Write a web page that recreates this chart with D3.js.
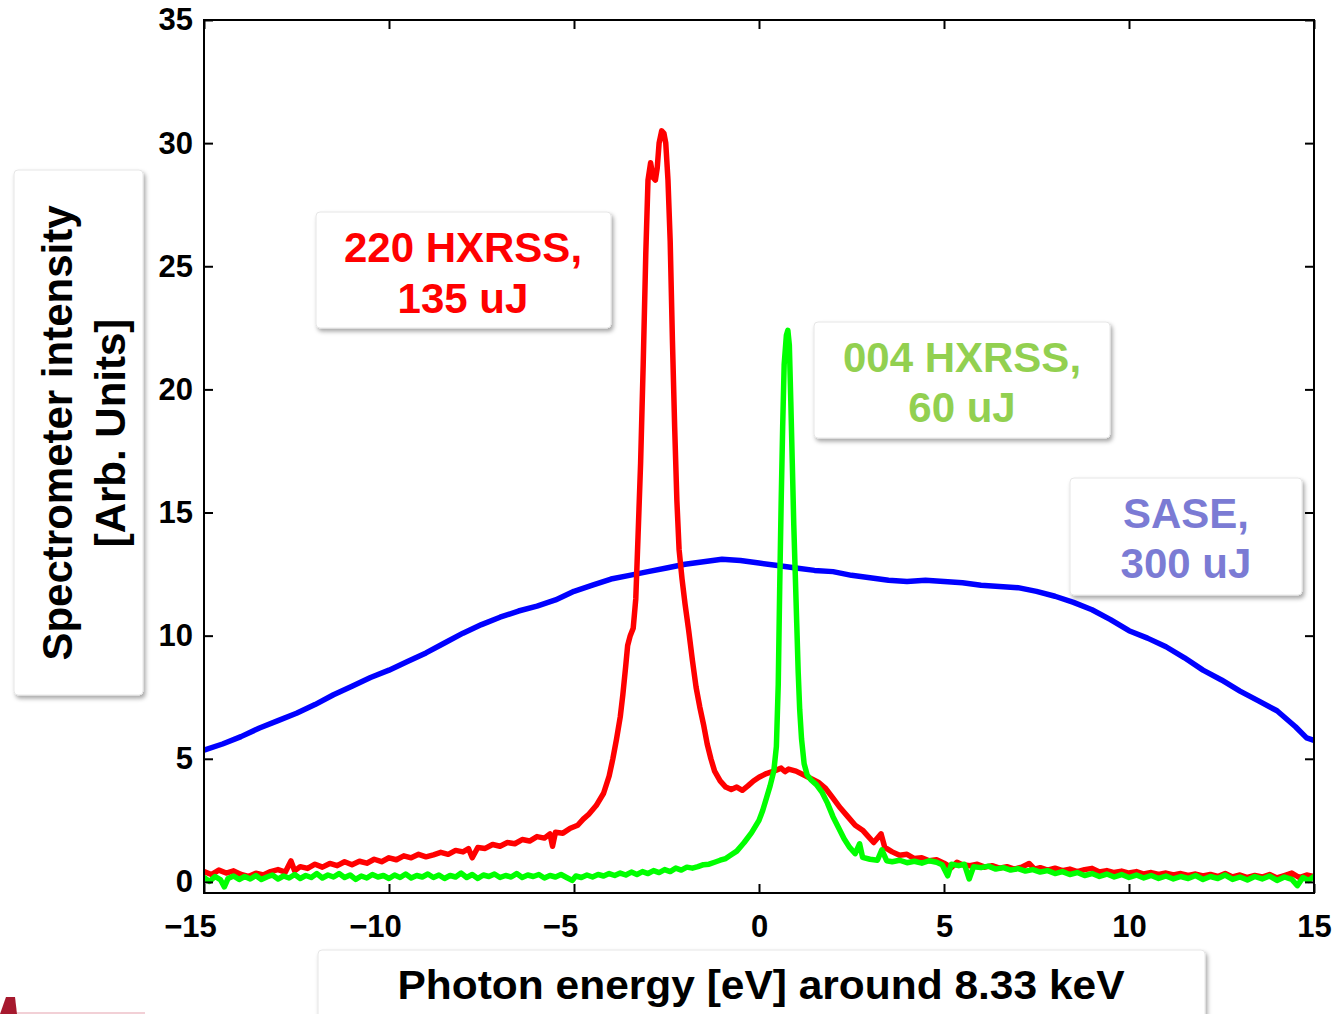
<!DOCTYPE html>
<html>
<head>
<meta charset="utf-8">
<script src="https://cdn.jsdelivr.net/npm/d3@7"></script>
<style>
  html, body { margin: 0; padding: 0; background: #fff; }
  svg { display: block; font-family: "Liberation Sans", Arial, sans-serif; }
</style>
</head>
<body>
<svg id="chart" width="1336" height="1014"></svg>
<script>
// ---- Data ----
const xTicks = [-15, -10, -5, 0, 5, 10, 15];
const yTicks = [0, 5, 10, 15, 20, 25, 30, 35];

// SASE, 300 uJ  [photon energy eV, intensity]
const sase = [
  [-15, 5.35], [-14.5, 5.6], [-14, 5.9], [-13.5, 6.25], [-13, 6.55], [-12.5, 6.85],
  [-12, 7.2], [-11.5, 7.6], [-11, 7.95], [-10.5, 8.3], [-10, 8.6], [-9.5, 8.95],
  [-9, 9.3], [-8.5, 9.7], [-8, 10.1], [-7.5, 10.45], [-7, 10.75], [-6.5, 11.0],
  [-6, 11.2], [-5.5, 11.45], [-5, 11.8], [-4.5, 12.05], [-4, 12.3], [-3.5, 12.45],
  [-3, 12.6], [-2.5, 12.75], [-2, 12.9], [-1.5, 13.0], [-1, 13.1], [-0.5, 13.05],
  [0, 12.95], [0.5, 12.85], [1, 12.75], [1.5, 12.65], [2, 12.6], [2.5, 12.45],
  [3, 12.35], [3.5, 12.25], [4, 12.2], [4.5, 12.25], [5, 12.2], [5.5, 12.15],
  [6, 12.05], [6.5, 12.0], [7, 11.95], [7.5, 11.8], [8, 11.6], [8.5, 11.35],
  [9, 11.05], [9.5, 10.65], [10, 10.2], [10.5, 9.9], [11, 9.55], [11.5, 9.1],
  [12, 8.6], [12.5, 8.2], [13, 7.75], [13.5, 7.35], [14, 6.95], [14.5, 6.3],
  [14.8, 5.85], [15, 5.75]
];

// 220 HXRSS, 135 uJ
const hxrss220 = [
  [-15.0, 0.42], [-14.8, 0.30], [-14.6, 0.48], [-14.4, 0.36], [-14.2, 0.45], [-14.0, 0.30],
  [-13.8, 0.22], [-13.6, 0.35], [-13.4, 0.28], [-13.2, 0.42], [-13.0, 0.50], [-12.8, 0.40],
  [-12.65, 0.85], [-12.55, 0.45], [-12.4, 0.62], [-12.2, 0.55], [-12.0, 0.72], [-11.8, 0.60],
  [-11.6, 0.75], [-11.4, 0.66], [-11.2, 0.82], [-11.0, 0.70], [-10.8, 0.84], [-10.6, 0.76],
  [-10.4, 0.92], [-10.2, 0.82], [-10.0, 0.98], [-9.8, 0.90], [-9.6, 1.06], [-9.4, 0.98],
  [-9.2, 1.12], [-9.0, 1.02], [-8.8, 1.10], [-8.6, 1.20], [-8.4, 1.12], [-8.2, 1.28],
  [-8.0, 1.22], [-7.85, 1.35], [-7.75, 0.98], [-7.6, 1.40], [-7.4, 1.36], [-7.2, 1.52],
  [-7.0, 1.45], [-6.8, 1.60], [-6.6, 1.55], [-6.4, 1.72], [-6.2, 1.66], [-6.0, 1.84],
  [-5.8, 1.78], [-5.65, 1.95], [-5.58, 1.45], [-5.5, 2.02], [-5.3, 1.98], [-5.1, 2.18],
  [-4.9, 2.30], [-4.75, 2.55], [-4.6, 2.75], [-4.4, 3.10], [-4.2, 3.60], [-4.05, 4.3],
  [-3.95, 5.0], [-3.85, 5.8], [-3.75, 6.7], [-3.68, 7.6], [-3.6, 8.8], [-3.55, 9.6],
  [-3.48, 10.0], [-3.4, 10.3], [-3.33, 11.5], [-3.27, 14], [-3.2, 17], [-3.13, 21],
  [-3.06, 25.5], [-3.0, 28.5], [-2.93, 29.2], [-2.86, 28.6], [-2.80, 28.5], [-2.75, 29.0],
  [-2.70, 30.0], [-2.63, 30.5], [-2.57, 30.4], [-2.52, 30.0], [-2.46, 28.5], [-2.40, 26],
  [-2.34, 22], [-2.28, 18.5], [-2.22, 15.5], [-2.16, 13.5], [-2.08, 12.3], [-2.0, 11.3],
  [-1.90, 10.2], [-1.80, 9.0], [-1.70, 7.9], [-1.60, 7.1], [-1.50, 6.4], [-1.40, 5.6],
  [-1.30, 5.0], [-1.20, 4.5], [-1.05, 4.1], [-0.90, 3.85], [-0.75, 3.75], [-0.6, 3.85],
  [-0.45, 3.72], [-0.3, 3.90], [-0.15, 4.10], [0.0, 4.25], [0.2, 4.40], [0.4, 4.50],
  [0.6, 4.62], [0.7, 4.48], [0.8, 4.58], [1.0, 4.50], [1.2, 4.35], [1.4, 4.20],
  [1.6, 4.05], [1.8, 3.80], [2.0, 3.40], [2.2, 3.00], [2.4, 2.65], [2.6, 2.30],
  [2.8, 2.10], [2.95, 1.85], [3.1, 1.6], [3.3, 1.95], [3.4, 1.4], [3.6, 1.22],
  [3.8, 1.08], [4.0, 1.12], [4.2, 0.95], [4.4, 0.98], [4.6, 0.86], [4.8, 0.90],
  [5.0, 0.76], [5.2, 0.58], [5.35, 0.80], [5.5, 0.70], [5.7, 0.66], [5.9, 0.72],
  [6.1, 0.60], [6.3, 0.66], [6.5, 0.56], [6.7, 0.62], [6.9, 0.52], [7.1, 0.60],
  [7.3, 0.75], [7.45, 0.52], [7.6, 0.58], [7.8, 0.48], [8.0, 0.56], [8.2, 0.46],
  [8.4, 0.52], [8.6, 0.42], [8.8, 0.50], [9.0, 0.55], [9.2, 0.40], [9.4, 0.46],
  [9.6, 0.38], [9.8, 0.44], [10.0, 0.36], [10.2, 0.42], [10.4, 0.32], [10.6, 0.38],
  [10.8, 0.30], [11.0, 0.36], [11.2, 0.28], [11.4, 0.34], [11.6, 0.26], [11.8, 0.32],
  [12.0, 0.24], [12.2, 0.30], [12.4, 0.22], [12.6, 0.34], [12.8, 0.20], [13.0, 0.28],
  [13.2, 0.18], [13.4, 0.26], [13.6, 0.20], [13.8, 0.30], [14.0, 0.16], [14.2, 0.26],
  [14.4, 0.36], [14.6, 0.18], [14.8, 0.28], [15.0, 0.22]
];

// 004 HXRSS, 60 uJ
const hxrss004 = [
  [-15.0, 0.18], [-14.85, 0.02], [-14.7, 0.22], [-14.55, 0.08], [-14.45, -0.2], [-14.35, 0.14],
  [-14.2, 0.24], [-14.05, 0.10], [-13.9, 0.22], [-13.75, 0.12], [-13.6, 0.26], [-13.45, 0.10],
  [-13.3, 0.20], [-13.15, 0.28], [-13.0, 0.12], [-12.85, 0.24], [-12.7, 0.16], [-12.55, 0.30],
  [-12.4, 0.14], [-12.25, 0.26], [-12.1, 0.18], [-11.95, 0.34], [-11.8, 0.16], [-11.65, 0.28],
  [-11.5, 0.20], [-11.35, 0.34], [-11.2, 0.18], [-11.05, 0.28], [-10.9, 0.10], [-10.75, 0.24],
  [-10.6, 0.16], [-10.45, 0.30], [-10.3, 0.20], [-10.15, 0.26], [-10.0, 0.14], [-9.85, 0.28],
  [-9.7, 0.18], [-9.55, 0.32], [-9.4, 0.16], [-9.25, 0.26], [-9.1, 0.20], [-8.95, 0.32],
  [-8.8, 0.18], [-8.65, 0.28], [-8.5, 0.14], [-8.35, 0.26], [-8.2, 0.20], [-8.05, 0.36],
  [-7.9, 0.18], [-7.75, 0.30], [-7.6, 0.14], [-7.45, 0.28], [-7.3, 0.22], [-7.15, 0.32],
  [-7.0, 0.18], [-6.85, 0.26], [-6.7, 0.20], [-6.55, 0.34], [-6.4, 0.18], [-6.25, 0.28],
  [-6.1, 0.22], [-5.95, 0.30], [-5.8, 0.16], [-5.65, 0.26], [-5.5, 0.20], [-5.35, 0.30],
  [-5.2, 0.18], [-5.05, 0.06], [-4.95, 0.24], [-4.8, 0.18], [-4.65, 0.28], [-4.5, 0.20],
  [-4.35, 0.30], [-4.2, 0.24], [-4.05, 0.34], [-3.9, 0.26], [-3.75, 0.36], [-3.6, 0.28],
  [-3.45, 0.40], [-3.3, 0.30], [-3.15, 0.42], [-3.0, 0.34], [-2.85, 0.46], [-2.7, 0.38],
  [-2.55, 0.50], [-2.4, 0.42], [-2.25, 0.56], [-2.1, 0.48], [-1.95, 0.60], [-1.8, 0.56],
  [-1.65, 0.62], [-1.5, 0.70], [-1.35, 0.72], [-1.2, 0.80], [-1.05, 0.88], [-0.9, 0.95],
  [-0.75, 1.10], [-0.6, 1.25], [-0.4, 1.60], [-0.2, 2.00], [0.0, 2.50], [0.1, 2.90],
  [0.2, 3.40], [0.3, 3.90], [0.4, 4.50], [0.47, 5.5], [0.52, 8], [0.56, 12],
  [0.60, 15.5], [0.64, 18.5], [0.68, 21], [0.74, 22.2], [0.78, 22.4], [0.82, 21.8],
  [0.86, 19.5], [0.90, 17], [0.94, 14.5], [0.98, 12.5], [1.02, 10.5], [1.06, 8.5],
  [1.10, 7.0], [1.15, 5.8], [1.22, 4.8], [1.30, 4.35], [1.40, 4.15], [1.55, 3.95],
  [1.70, 3.65], [1.85, 3.2], [2.00, 2.65], [2.15, 2.2], [2.30, 1.75], [2.45, 1.40],
  [2.60, 1.15], [2.72, 1.55], [2.8, 1.0], [3.0, 0.92], [3.2, 0.88], [3.32, 1.3],
  [3.45, 0.86], [3.6, 0.82], [3.8, 0.88], [4.0, 0.78], [4.2, 0.84], [4.4, 0.76],
  [4.6, 0.86], [4.8, 0.80], [4.95, 0.70], [5.1, 0.25], [5.2, 0.72], [5.4, 0.66],
  [5.55, 0.72], [5.68, 0.12], [5.8, 0.62], [6.0, 0.58], [6.2, 0.64], [6.4, 0.52],
  [6.6, 0.58], [6.8, 0.48], [7.0, 0.54], [7.2, 0.44], [7.4, 0.50], [7.6, 0.40],
  [7.8, 0.46], [8.0, 0.34], [8.2, 0.42], [8.4, 0.30], [8.6, 0.38], [8.8, 0.26],
  [9.0, 0.34], [9.2, 0.22], [9.4, 0.32], [9.6, 0.20], [9.8, 0.30], [10.0, 0.18],
  [10.2, 0.28], [10.4, 0.16], [10.6, 0.26], [10.8, 0.14], [11.0, 0.24], [11.2, 0.12],
  [11.4, 0.22], [11.6, 0.14], [11.8, 0.26], [12.0, 0.10], [12.2, 0.22], [12.4, 0.14],
  [12.6, 0.28], [12.8, 0.10], [13.0, 0.20], [13.2, 0.08], [13.4, 0.22], [13.6, 0.12],
  [13.8, 0.24], [14.0, 0.06], [14.2, 0.20], [14.4, 0.10], [14.55, -0.15], [14.7, 0.18],
  [14.85, 0.06], [15.0, 0.22]
];

const labelTexts = {
  red: ["220 HXRSS,", "135 uJ"],
  green: ["004 HXRSS,", "60 uJ"],
  blue: ["SASE,", "300 uJ"]
};
const xTitle = "Photon energy [eV] around 8.33 keV";
const yTitle = ["Spectrometer intensity", "[Arb. Units]"];

// ---- Layout ----
const svg = d3.select("#chart");
const L = 204, R = 1314, T = 20, B = 893;
const x = d3.scaleLinear().domain([-15, 15]).range([L, R]);
const y = d3.scaleLinear().domain([-0.45, 35]).range([B, T]);

const defs = svg.append("defs");
const f = defs.append("filter").attr("id", "shadow")
  .attr("x", "-10%").attr("y", "-10%").attr("width", "125%").attr("height", "130%");
f.append("feDropShadow").attr("dx", 2).attr("dy", 3).attr("stdDeviation", 2.2)
  .attr("flood-color", "#000").attr("flood-opacity", 0.35);
defs.append("clipPath").attr("id", "plotclip").append("rect")
  .attr("x", L).attr("y", T).attr("width", R - L).attr("height", B - T);

// ---- Curves ----
const line = d3.line().x(d => x(d[0])).y(d => y(d[1]));
const curves = svg.append("g").attr("clip-path", "url(#plotclip)");
[[sase, "#0000ff"], [hxrss220, "#ff0000"], [hxrss004, "#00ff00"]].forEach(([data, col]) => {
  curves.append("path").datum(data).attr("d", line)
    .attr("fill", "none").attr("stroke", col).attr("stroke-width", 5.5)
    .attr("stroke-linejoin", "round").attr("stroke-linecap", "round");
});

// ---- Axes (inward ticks on all four sides) ----
const tickFont = g => g.selectAll("text")
  .attr("font-size", 31).attr("font-weight", "bold").attr("fill", "#000")
  .attr("font-family", "'Liberation Sans', Arial, sans-serif");

const gL = svg.append("g").attr("transform", `translate(${L},0)`)
  .call(d3.axisLeft(y).tickValues(yTicks).tickSizeInner(-9).tickSizeOuter(0).tickPadding(11));
const gR = svg.append("g").attr("transform", `translate(${R},0)`)
  .call(d3.axisRight(y).tickValues(yTicks).tickSizeInner(-9).tickSizeOuter(0).tickFormat(""));
const gB = svg.append("g").attr("transform", `translate(0,${B})`)
  .call(d3.axisBottom(x).tickValues(xTicks).tickSizeInner(-9).tickSizeOuter(0).tickPadding(22));
const gT = svg.append("g").attr("transform", `translate(0,${T})`)
  .call(d3.axisTop(x).tickValues(xTicks).tickSizeInner(-9).tickSizeOuter(0).tickFormat(""));
[gL, gR, gB, gT].forEach(g => {
  g.select(".domain").remove();
  g.selectAll("line").attr("stroke", "#000").attr("stroke-width", 2);
  tickFont(g);
});
gB.selectAll("text").text(d => d < 0 ? "\u2212" + Math.abs(d) : d)
  .attr("dx", d => d < 0 ? -14 : 0);

svg.append("rect").attr("x", L).attr("y", T).attr("width", R - L).attr("height", B - T)
  .attr("fill", "none").attr("stroke", "#000").attr("stroke-width", 2);

// ---- Label boxes ----
function box(x0, y0, w, h) {
  svg.append("rect").attr("x", x0).attr("y", y0).attr("width", w).attr("height", h)
    .attr("rx", 4).attr("fill", "#fff").attr("stroke", "#e6e6e6").attr("stroke-width", 1)
    .attr("filter", "url(#shadow)");
}
function lines(cx, ys, texts, col, size, rotate) {
  texts.forEach((t, i) => {
    const tx = svg.append("text").text(t)
      .attr("font-size", size).attr("font-weight", "bold").attr("fill", col)
      .attr("text-anchor", "middle").attr("dominant-baseline", "central");
    if (rotate) {
      tx.attr("transform", `translate(${ys[i]},${cx}) rotate(-90)`);
    } else {
      tx.attr("x", cx).attr("y", ys[i]);
    }
  });
}

box(316, 212, 295, 116);
lines(463, [247, 298], labelTexts.red, "#ff0000", 42);

box(814, 322, 296, 116);
lines(962, [357, 407], labelTexts.green, "#92d050", 42);

box(1070, 478, 232, 117);
lines(1186, [513, 563], labelTexts.blue, "#7b7bd4", 42);

box(14, 170, 129, 525);
lines(433, [57, 110], yTitle, "#000", 42, true);

box(318, 950, 887, 80);
svg.append("text").text(xTitle)
  .attr("x", 761).attr("y", 985).attr("font-size", 41).attr("font-weight", "bold")
  .attr("fill", "#000").attr("text-anchor", "middle").attr("dominant-baseline", "central")
  .attr("textLength", 727).attr("lengthAdjust", "spacingAndGlyphs");

// ---- corner logo fragment ----
svg.append("path").attr("d", "M0,1014 L6,997 L15,997 L17,1014 Z").attr("fill", "#a6192e");
svg.append("rect").attr("x", 17).attr("y", 1012).attr("width", 128).attr("height", 2)
  .attr("fill", "#f2d0d6");
</script>
</body>
</html>
